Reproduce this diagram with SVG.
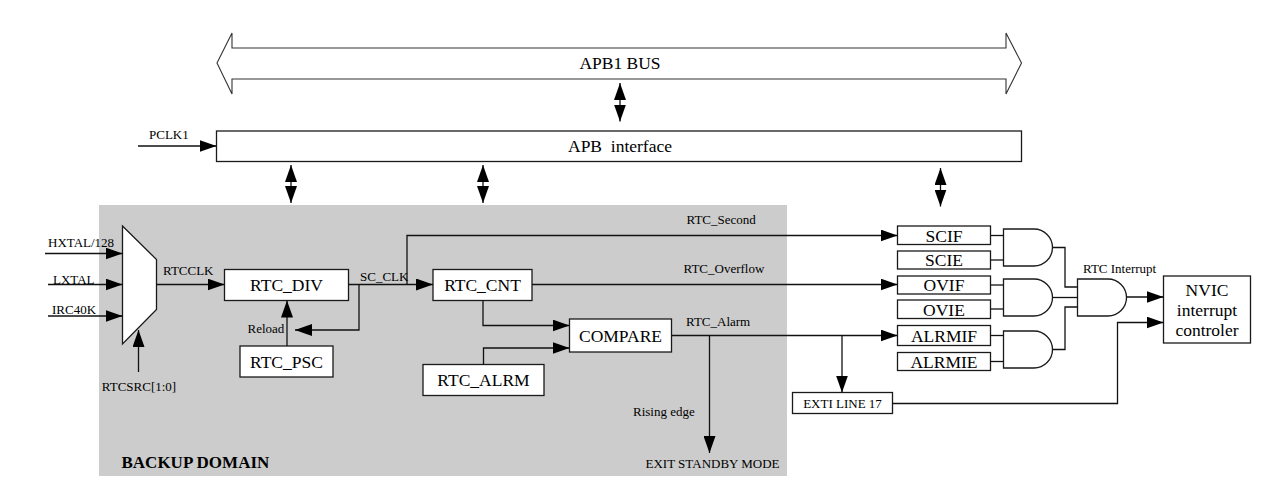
<svg xmlns="http://www.w3.org/2000/svg" width="1263" height="489" viewBox="0 0 1263 489" font-family="'Liberation Serif', 'DejaVu Serif', serif">
<defs>
<style>
.bx{fill:#fff;stroke:#1a1a1a;stroke-width:1.3}
.ln{fill:none;stroke:#111;stroke-width:1.3}
text{font-family:'Liberation Serif','DejaVu Serif',serif;fill:#000}
.big{font-size:17.5px;text-anchor:middle}
.sm{font-size:13px}
.mid{text-anchor:middle}
.arr{marker-end:url(#ah)}
.dbl{marker-start:url(#ah);marker-end:url(#ah)}
</style>
<marker id="ah" markerUnits="userSpaceOnUse" markerWidth="18" markerHeight="12" refX="17" refY="6" orient="auto-start-reverse">
<path d="M0,0 L17,6 L0,12 z" fill="#000"/>
</marker>
</defs>
<rect width="1263" height="489" fill="#fff"/>
<rect id="backup-domain" x="99" y="205" width="688" height="271" fill="#cccccc"/>

<g id="apb1-bus">
<path d="M217,63 L232,33 L232,48 L1006,48 L1006,33 L1021.5,63 L1006,94 L1006,79 L232,79 L232,94 Z" fill="#fff" stroke="#333" stroke-width="1.1"/>
<text class="big" x="620" y="69">APB1 BUS</text>
</g>

<g id="apb-interface">
<rect class="bx" x="216.5" y="131" width="805" height="30.5"/>
<text class="big" x="620" y="152" xml:space="preserve">APB  interface</text>
</g>

<g id="mux">
<path d="M122.5,226 L156.5,259.5 L156.5,309.5 L122.5,344 Z" class="bx"/>
</g>

<g id="rtc-div"><rect class="bx" x="224.5" y="269.5" width="124" height="31"/><text class="big" x="286.5" y="291">RTC_DIV</text></g>
<g id="rtc-psc"><rect class="bx" x="240" y="346" width="93" height="31"/><text class="big" x="286.5" y="367.5">RTC_PSC</text></g>
<g id="rtc-cnt"><rect class="bx" x="433" y="269.5" width="99" height="31"/><text class="big" x="482.5" y="291">RTC_CNT</text></g>
<g id="compare"><rect class="bx" x="569.5" y="319" width="102" height="33"/><text class="big" x="620.5" y="341.5">COMPARE</text></g>
<g id="rtc-alrm"><rect class="bx" x="423" y="364.5" width="121" height="31"/><text class="big" x="483.5" y="386">RTC_ALRM</text></g>
<g id="exti"><rect class="bx" x="792.5" y="392.5" width="100" height="21"/><text class="sm mid" x="842.5" y="407.5">EXTI LINE 17</text></g>

<g id="scif"><rect class="bx" x="897.5" y="226" width="93" height="18.5"/><text class="big" x="944" y="241.5">SCIF</text></g>
<g id="scie"><rect class="bx" x="897.5" y="251" width="93" height="18"/><text class="big" x="944" y="266">SCIE</text></g>
<g id="ovif"><rect class="bx" x="897.5" y="276" width="93" height="18"/><text class="big" x="944" y="291">OVIF</text></g>
<g id="ovie"><rect class="bx" x="897.5" y="300" width="93" height="18.5"/><text class="big" x="944" y="315.5">OVIE</text></g>
<g id="alrmif"><rect class="bx" x="897.5" y="325.5" width="93" height="20"/><text class="big" x="944" y="341.5">ALRMIF</text></g>
<g id="alrmie"><rect class="bx" x="897.5" y="352.5" width="93" height="18"/><text class="big" x="944" y="367.5">ALRMIE</text></g>

<g id="and-second"><path class="bx" d="M1003.5,229 H1034 A18.5,18.5 0 0 1 1034,266 H1003.5 Z"/></g>
<g id="and-overflow"><path class="bx" d="M1003.5,279 H1034 A18.5,18.5 0 0 1 1034,316 H1003.5 Z"/></g>
<g id="and-alarm"><path class="bx" d="M1003.5,331 H1034 A18.5,18.5 0 0 1 1034,368 H1003.5 Z"/></g>
<g id="and-interrupt"><path class="bx" d="M1077.5,279 H1108 A18.5,18.5 0 0 1 1108,316 H1077.5 Z"/></g>

<g id="nvic"><rect class="bx" x="1163.5" y="276" width="87" height="67"/>
<text class="big" x="1207" y="296">NVIC</text>
<text class="big" x="1207" y="316">interrupt</text>
<text class="big" x="1207" y="336">controler</text>
</g>

<g id="connectors">
<line class="ln dbl" x1="620" y1="83" x2="620" y2="121.5"/>
<line class="ln dbl" x1="291" y1="165" x2="291" y2="203"/>
<line class="ln dbl" x1="483" y1="165" x2="483" y2="203"/>
<line class="ln dbl" x1="940.5" y1="168" x2="940.5" y2="206.5"/>
<line class="ln arr" x1="138" y1="146" x2="216.5" y2="146"/>
<line class="ln arr" x1="45" y1="253.5" x2="122.5" y2="253.5"/>
<line class="ln arr" x1="48" y1="284.5" x2="122.5" y2="284.5"/>
<line class="ln arr" x1="48" y1="316" x2="122.5" y2="316"/>
<line class="ln arr" x1="138.5" y1="372" x2="138.5" y2="330"/>
<line class="ln arr" x1="156.5" y1="284.5" x2="224.5" y2="284.5"/>
<line class="ln arr" x1="348.5" y1="284.5" x2="433" y2="284.5"/>
<polyline class="ln arr" points="359,284.5 359,330 295,330"/>
<line class="ln arr" x1="287" y1="346" x2="287" y2="300.5"/>
<polyline class="ln arr" points="407,284.5 407,235.5 897.5,235.5"/>
<line class="ln arr" x1="532" y1="284.5" x2="897.5" y2="284.5"/>
<polyline class="ln arr" points="483,300.5 483,325.5 569.5,325.5"/>
<polyline class="ln arr" points="483.5,364.5 483.5,348 569.5,348"/>
<line class="ln arr" x1="671.5" y1="335.5" x2="897.5" y2="335.5"/>
<line class="ln arr" x1="709.5" y1="335.5" x2="709.5" y2="453"/>
<line class="ln arr" x1="842" y1="335.5" x2="842" y2="392.5"/>
<line class="ln" x1="990.5" y1="235.5" x2="1003.5" y2="235.5"/>
<line class="ln" x1="990.5" y1="260" x2="1003.5" y2="260"/>
<line class="ln" x1="990.5" y1="285" x2="1003.5" y2="285"/>
<line class="ln" x1="990.5" y1="309" x2="1003.5" y2="309"/>
<line class="ln" x1="990.5" y1="335.5" x2="1003.5" y2="335.5"/>
<line class="ln" x1="990.5" y1="361.5" x2="1003.5" y2="361.5"/>
<polyline class="ln" points="1052.5,247.5 1065,247.5 1065,287 1077.5,287"/>
<line class="ln" x1="1052.5" y1="297.5" x2="1077.5" y2="297.5"/>
<polyline class="ln" points="1052.5,349.5 1065,349.5 1065,307 1077.5,307"/>
<line class="ln arr" x1="1126.5" y1="297" x2="1163.5" y2="297"/>
<polyline class="ln arr" points="892.5,403.5 1117.5,403.5 1117.5,322.5 1163.5,322.5"/>
</g>

<g id="labels">
<text class="sm" x="149" y="139">PCLK1</text>
<text class="sm" x="48" y="247">HXTAL/128</text>
<text class="sm" x="53" y="283.5">LXTAL</text>
<text class="sm" x="52" y="313.5">IRC40K</text>
<text class="sm mid" x="139" y="391">RTCSRC[1:0]</text>
<text class="sm" x="163" y="274.5">RTCCLK</text>
<text class="sm" x="360" y="281">SC_CLK</text>
<text class="sm" x="247.5" y="333">Reload</text>
<text class="sm" x="686.5" y="224">RTC_Second</text>
<text class="sm" x="683.5" y="273">RTC_Overflow</text>
<text class="sm" x="686" y="326">RTC_Alarm</text>
<text class="sm" x="633" y="416">Rising edge</text>
<text x="645.5" y="467.5" font-size="13px">EXIT STANDBY MODE</text>
<text x="121.5" y="468" font-size="17px" font-weight="bold">BACKUP DOMAIN</text>
<text class="sm" x="1083" y="272.5">RTC Interrupt</text>
</g>
</svg>
